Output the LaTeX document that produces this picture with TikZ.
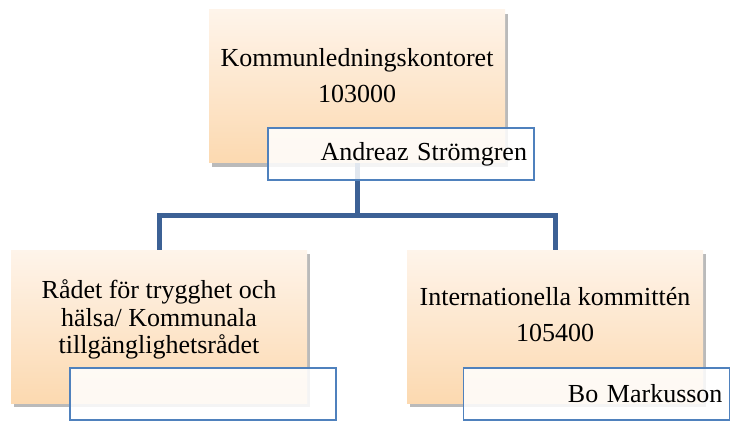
\documentclass[tikz,border=0pt]{standalone}
\usepackage{fontspec}
\setmainfont{Liberation Serif}
\usetikzlibrary{positioning, shadows}

\definecolor{peachtop}{HTML}{FEF4EA}
\definecolor{peachbot}{HTML}{FCD9B0}
\definecolor{linkblue}{HTML}{3C6195}
\definecolor{frameblue}{HTML}{4F81BD}

\begin{document}
\begin{tikzpicture}[x=1pt, y=-1pt, on grid,
    unit/.style={rectangle, minimum width=296pt, minimum height=153pt, top color=peachtop, bottom color=peachbot, drop shadow={shadow xshift=3pt, shadow yshift=-4pt, fill=black!45, opacity=0.6}},
    namebox/.style={rectangle, draw=frameblue, line width=1.5pt, fill=white, fill opacity=0.85, text opacity=1, minimum width=266pt, minimum height=52pt, text width=252pt, inner xsep=7pt, align=right, font=\fontsize{26}{30}\selectfont},
    title/.style={align=center, font=\fontsize{26}{36}\selectfont},
    link/.style={draw=linkblue, line width=5pt}]

    \useasboundingbox (0,0) rectangle (730,422);

    \node[unit] (top) at (357,86.5) {};
    \node[unit, below left=240pt and 198pt of top] (raadet) {};
    \node[unit, below right=240pt and 198pt of top] (intkom) {};

    \node[title] (toptitle) at ([yshift=10.5pt]top.center) {Kommunledningskontoret\\103000};
    \node[title, font=\fontsize{26}{27.5}\selectfont] (raadettitle) at ([yshift=7pt]raadet.center) {Rådet för trygghet och\\hälsa/ Kommunala\\tillgänglighetsrådet};
    \node[title] (intkomtitle) at ([yshift=12pt]intkom.center) {Internationella kommittén\\105400};

    \draw[link] (top.south) -- ++(0,52) coordinate (bus) -| (raadet.north);
    \draw[link] (bus) -| (intkom.north);

    \node[namebox, below right=67.5pt and 44pt of top] (topname) {Andreaz Strömgren};
    \node[namebox, below right=67.5pt and 44pt of raadet] (raadetname) {};
    \node[namebox, below right=67.5pt and 41.5pt of intkom] (intkomname) {Bo Markusson};

\end{tikzpicture}
\end{document}
